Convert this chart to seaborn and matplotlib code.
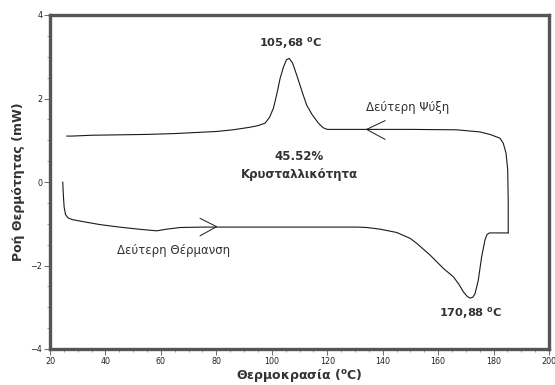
import matplotlib
matplotlib.use("Agg")
import matplotlib.pyplot as plt
import seaborn as sns
import pandas as pd

# Second heating scan: temperature (°C) and heat flow (mW)
heat_temp = [24.6, 24.8, 25.1, 25.6, 26.5, 28, 32, 38, 45, 52, 58.5, 62, 67, 75, 90,
             110, 125, 131, 134.3, 139.1, 145.1, 149.9, 152.3, 157.1, 161.9, 165.5,
             167.5, 169.1, 170.5, 171.5, 172.5, 173.3, 174.5, 175.7, 176.9, 177.6,
             178.5, 182, 185.3]
heat_flow = [0.0, -0.3, -0.6, -0.78, -0.86, -0.90, -0.95, -1.02, -1.08, -1.13, -1.17,
             -1.13, -1.09, -1.08, -1.08, -1.08, -1.08, -1.08, -1.09, -1.13, -1.21,
             -1.35, -1.47, -1.75, -2.07, -2.27, -2.45, -2.63, -2.74, -2.78, -2.76,
             -2.68, -2.35, -1.79, -1.39, -1.26, -1.22, -1.22, -1.22]

# Second cooling scan (recorded from high to low temperature)
cool_temp = [185.3, 185.3, 185.1, 184.5, 183.5, 182.3, 178.7, 175, 166.7, 150, 134.2,
             125, 120, 118.5, 116.8, 114.5, 112.6, 111, 109, 107.5, 106.3, 105.3,
             104.2, 103, 101.8, 100.6, 99.2, 97.6, 95, 92, 86, 80, 74, 65, 55, 45.3,
             35, 28, 26]
cool_flow = [-1.22, -0.5, 0.3, 0.69, 0.93, 1.05, 1.14, 1.20, 1.25, 1.26, 1.26, 1.26,
             1.26, 1.30, 1.41, 1.62, 1.84, 2.15, 2.56, 2.85, 2.96, 2.93, 2.75, 2.48,
             2.10, 1.77, 1.55, 1.41, 1.35, 1.31, 1.25, 1.21, 1.19, 1.16, 1.14, 1.13,
             1.12, 1.10, 1.10]

# Direction markers (open arrowheads) drawn on each scan
cool_arrow_x = [140.9, 134.2, 140.9]
cool_arrow_y = [1.47, 1.26, 1.02]
heat_arrow_x = [74.1, 80.1, 74.1]
heat_arrow_y = [-0.87, -1.07, -1.29]

peak_cryst_T = 105.68
peak_melt_T = 170.88
crystallinity = 45.52

x_ticks = [20, 40, 60, 80, 100, 120, 140, 160, 180, 200]
y_ticks = [-4, -2, 0, 2, 4]

sns.set_theme(style="ticks")
plt.rcParams["font.family"] = ["DejaVu Sans"]
plt.rcParams["mathtext.fontset"] = "dejavusans"

fig = plt.figure(figsize=(5.55, 3.85), dpi=100)
ax = fig.add_axes([50 / 555, 1 - 349 / 385, 499 / 555, 334 / 385])

line_kw = dict(color="#1a1a1a", linewidth=0.8, sort=False, estimator=None, legend=False)
heat_df = pd.DataFrame({"T": heat_temp, "Q": heat_flow})
cool_df = pd.DataFrame({"T": cool_temp, "Q": cool_flow})
sns.lineplot(data=heat_df, x="T", y="Q", ax=ax, **line_kw)
sns.lineplot(data=cool_df, x="T", y="Q", ax=ax, **line_kw)

ax.plot(cool_arrow_x, cool_arrow_y, color="#1a1a1a", linewidth=0.7)
ax.plot(heat_arrow_x, heat_arrow_y, color="#1a1a1a", linewidth=0.7)

ax.set_xlim(20, 200)
ax.set_ylim(-4, 4)
ax.set_xticks(x_ticks)
ax.set_yticks(y_ticks)
ax.set_xticks(range(20, 201, 5), minor=True)
ax.set_yticks([v / 2 for v in range(-8, 9)], minor=True)

spine_color = "#555555"
for side in ["left", "right", "top", "bottom"]:
    ax.spines[side].set_visible(True)
    ax.spines[side].set_color(spine_color)
    ax.spines[side].set_linewidth(2.4)

ax.tick_params(which="major", length=4, width=0.6, color="#555555",
               labelsize=5.8, labelcolor="#222222", pad=1.5)
ax.tick_params(which="minor", length=2.5, width=0.5, color="#777777")
ax.tick_params(axis="both", which="both", direction="out")

ax.set_xlabel(r"Θερμοκρασία ($^{\mathbf{o}}$C)", fontsize=9, fontweight="bold",
              color="#333333", labelpad=1)
ax.set_ylabel("Ροή Θερμότητας (mW)", fontsize=9, fontweight="bold",
              color="#333333", labelpad=4)

txt_color = "#333333"
ax.text(107, 3.34, f"{peak_cryst_T:.2f}".replace(".", ",") + r" $^{\mathbf{o}}$C",
        fontsize=8.2, fontweight="bold", color=txt_color, ha="center", va="center")
ax.text(149, 1.79, "Δεύτερη Ψύξη", fontsize=8.5, color=txt_color,
        ha="center", va="center")
ax.text(110, 0.39, f"{crystallinity:.2f}%\nΚρυσταλλικότητα", fontsize=8.5,
        fontweight="bold", color=txt_color, ha="center", va="center",
        linespacing=1.45)
ax.text(64.5, -1.65, "Δεύτερη Θέρμανση", fontsize=8.5, color=txt_color,
        ha="center", va="center")
ax.text(171.8, -3.13, f"{peak_melt_T:.2f}".replace(".", ",") + r" $^{\mathbf{o}}$C",
        fontsize=8.2, fontweight="bold", color=txt_color, ha="center", va="center")

fig.savefig("out.png", dpi=100)
